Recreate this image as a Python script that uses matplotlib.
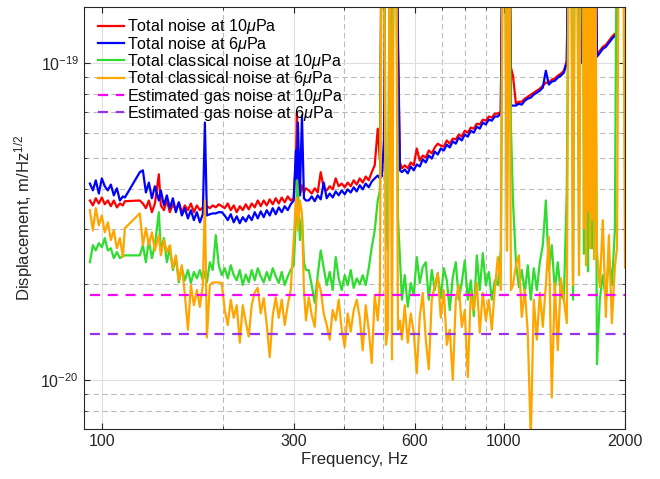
import matplotlib
matplotlib.use("Agg")
import matplotlib.pyplot as plt
import numpy as np
from matplotlib.ticker import FixedLocator, NullFormatter

plt.rcParams['font.family'] = ['Liberation Sans', 'DejaVu Sans']
plt.rcParams['mathtext.fontset'] = 'custom'
plt.rcParams['mathtext.rm'] = 'Liberation Sans'
plt.rcParams['mathtext.it'] = 'Liberation Sans:italic'

# frequency bins, Hz (shared by the four measured spectra)
freq = [
    93.4, 95.0, 96.6, 98.3, 100.0, 101.7, 103.5, 105.3, 107.1, 109.0, 110.9, 112.8, 114.1,
    124.3, 126.5, 128.7, 130.9, 133.2, 135.5, 138.6, 140.2, 142.7, 145.1, 147.6, 150.2,
    152.8, 155.4, 158.1, 160.9, 163.7, 166.5, 169.4, 172.3, 175.3, 178.3, 180.4, 182.5, 185.6,
    188.7, 192.0, 195.3, 198.7,
    202.1, 205.7, 209.2, 212.8, 216.5, 220.3, 224.1, 228.0, 231.9, 235.9, 240.0, 244.2,
    248.4, 252.7, 257.1, 261.5, 266.1, 270.7, 275.4, 280.1, 285.0, 289.9, 294.9,
    300.0, 303.8, 305.6, 307.3, 310.8, 314.5, 318.1, 321.8,
    327.0, 332.6, 338.4, 344.2, 350.2, 356.3, 362.4, 368.7, 375.1, 381.6, 388.2, 394.9,
    401.8, 408.7, 415.8, 423.0, 430.4, 437.8, 445.4, 453.1, 461.0, 469.0, 477.1, 485.4,
    491.5, 497.2, 503.0, 508.8, 514.6, 520.6, 526.6, 532.6, 538.7, 545.0, 551.2,
    557.6, 566.6, 576.5, 586.4, 596.6, 606.9, 617.5, 628.2, 639.1, 650.1, 661.4, 672.9,
    684.5, 696.4, 708.5, 720.7, 733.2, 746.0, 758.9, 772.0, 785.4, 799.0, 812.9, 827.0,
    841.3, 855.9, 870.7, 885.8, 901.2, 916.8, 932.7, 948.8, 965.3, 982.0,
    994.3, 1005.8, 1017.3, 1029.0, 1040.8, 1052.9,
    1071, 1089, 1107, 1127, 1146, 1166, 1186, 1207, 1228, 1249, 1271, 1293, 1315, 1338,
    1361, 1385, 1409, 1433,
    1451, 1468, 1485, 1502, 1519, 1537, 1554, 1572, 1581, 1590, 1600, 1609, 1618, 1627,
    1637, 1646, 1656, 1665, 1675, 1684,
    1703, 1731, 1761, 1792, 1823, 1855, 1887,
    1910, 1932, 1954, 1977, 2000,
]

# amplitudes in units of 1e-20 m/Hz^1/2 (values above 15 run off the top)
total_10 = [
    3.68, 3.55, 3.74, 3.60, 3.76, 3.58, 3.68, 3.53, 3.68, 3.50, 3.60, 3.55, 3.66,
    3.68, 3.60, 3.48, 3.68, 3.38, 3.60, 4.45, 3.55, 3.43, 3.68, 3.38, 3.58,
    3.43, 3.63, 3.38, 3.55, 3.43, 3.60, 3.38, 3.55, 3.43, 3.50, 3.38, 3.53, 3.48,
    3.55, 3.50, 3.58, 3.53,
    3.48, 3.60, 3.43, 3.55, 3.38, 3.53, 3.43, 3.58, 3.45, 3.60, 3.50, 3.68,
    3.53, 3.68, 3.55, 3.71, 3.58, 3.74, 3.60, 3.76, 3.63, 3.79, 3.68,
    3.74, 4.92, 6.96, 3.96, 3.82, 4.11, 3.90, 4.02,
    3.96, 3.87, 4.02, 3.90, 4.52, 4.02, 3.96, 4.08, 3.99, 4.32, 4.08, 4.16,
    4.05, 4.19, 4.08, 4.26, 4.13, 4.32, 4.19, 4.38, 4.26, 4.52, 4.75, 6.20,
    4.92, 40, 40, 40, 40, 40, 6.30, 40, 40, 12.35, 4.85,
    4.65, 4.75, 4.65, 4.85, 4.75, 5.37, 4.92, 5.10, 5.03, 5.29, 5.18, 5.41,
    5.56, 5.48, 5.44, 5.69, 5.56, 5.77, 5.73, 5.94, 5.85, 6.11, 6.02, 6.25,
    6.20, 6.43, 6.39, 6.62, 6.57, 6.77, 6.72, 6.91, 6.91, 7.01,
    40, 40, 40, 40, 9.65, 9.11,
    7.43, 7.54, 7.54, 7.71, 7.82, 7.94, 8.05, 8.17, 8.29, 8.47, 8.66, 8.66, 8.85, 8.92,
    9.11, 9.24, 9.44, 10.15,
    40, 40, 40, 40, 40, 40, 12.0, 40, 40, 40, 40, 40, 40, 40,
    40, 40, 40, 40, 40, 40,
    10.6, 10.91, 11.23, 11.39, 11.73, 12.08, 12.35,
    12.45, 40, 40, 40, 40,
]

total_6 = [
    4.16, 3.96, 4.26, 3.87, 4.32, 4.08, 3.96, 4.13, 3.82, 4.02, 3.68, 3.79, 3.76,
    4.52, 4.58, 3.90, 4.19, 3.74, 4.08, 3.68, 3.96, 3.55, 3.82, 3.48, 3.74,
    3.38, 3.63, 3.30, 3.48, 3.23, 3.43, 3.19, 3.38, 3.14, 3.33, 6.48, 3.30, 3.33,
    3.35, 3.35, 3.38, 3.38,
    3.30, 3.19, 3.33, 3.14, 3.28, 3.12, 3.26, 3.16, 3.30, 3.19, 3.38, 3.23,
    3.40, 3.26, 3.43, 3.30, 3.48, 3.33, 3.50, 3.38, 3.53, 3.43, 3.58,
    3.68, 5.29, 4.26, 6.48, 3.82, 6.82, 3.74, 3.68,
    3.68, 3.79, 3.66, 3.82, 3.71, 4.19, 3.74, 3.87, 3.76, 3.93, 3.82, 3.96,
    3.85, 3.99, 3.90, 4.05, 3.93, 4.11, 3.99, 4.16, 4.05, 4.22, 4.32, 4.41,
    4.32, 4.40, 5.70, 40, 40, 40, 4.75, 40, 40, 10.9, 4.58,
    4.52, 4.61, 4.48, 4.71, 4.58, 4.78, 4.71, 4.96, 4.85, 5.10, 4.99, 5.25,
    5.14, 5.37, 5.29, 5.52, 5.41, 5.65, 5.56, 5.81, 5.69, 5.94, 5.85, 6.11,
    6.02, 6.29, 6.20, 6.48, 6.39, 6.62, 6.57, 6.77, 6.77, 6.91,
    40, 40, 40, 40, 7.33, 7.33,
    7.33, 7.43, 7.38, 7.60, 7.71, 7.77, 7.94, 8.05, 8.17, 8.35, 9.44, 8.54, 8.72, 8.78,
    8.98, 9.11, 9.31, 10.0,
    40, 40, 40, 40, 40, 11.5, 10.0, 40, 40, 40, 40, 40, 40, 40,
    40, 40, 40, 40, 40, 40,
    10.45, 10.75, 11.07, 11.23, 11.56, 11.9, 12.17,
    12.0, 40, 40, 40, 40,
]

classical_10 = [
    2.35, 2.66, 2.56, 2.70, 2.62, 2.80, 2.56, 2.60, 2.42, 2.53, 2.42, 2.46, 2.47,
    2.47, 2.66, 2.35, 2.76, 2.42, 2.66, 3.38, 2.56, 2.80, 2.35, 2.60, 2.22,
    2.42, 2.03, 2.25, 2.06, 2.22, 2.02, 2.19, 2.09, 2.22, 2.06, 2.19, 2.03, 2.35,
    2.22, 2.86, 2.30, 2.14,
    2.25, 2.09, 2.30, 2.14, 2.06, 2.22, 1.99, 2.15, 2.03, 2.22, 2.06, 2.25,
    2.12, 2.03, 2.19, 2.06, 2.25, 2.12, 2.02, 2.19, 1.99, 2.12, 2.22,
    2.30, 3.19, 4.26, 3.96, 2.76, 3.30, 2.35, 2.22,
    2.22, 1.99, 1.75, 2.14, 2.56, 2.25, 1.99, 2.19, 1.92, 2.44, 2.09, 1.92,
    2.14, 1.99, 2.22, 1.95, 2.09, 2.00, 2.14, 1.99, 2.25, 2.62, 2.96, 3.68,
    3.96, 40, 40, 2.96, 2.56, 40, 2.96, 40, 40, 3.26, 2.42,
    1.79, 2.14, 1.70, 2.02, 1.85, 2.44, 2.02, 2.27, 2.35, 1.79, 2.22, 1.92,
    2.17, 1.81, 2.25, 2.06, 1.66, 2.11, 2.35, 1.79, 2.03, 2.38, 1.79, 2.06,
    1.59, 2.47, 1.92, 2.51, 1.99, 2.19, 1.79, 2.06, 1.99, 2.56,
    40, 40, 2.56, 40, 6.25, 3.68,
    2.35, 1.96, 2.22, 1.89, 2.30, 1.79, 2.25, 1.92, 2.35, 2.66, 3.68, 2.22, 2.66, 1.92,
    2.35, 1.85, 1.79, 3.96,
    40, 40, 1.79, 40, 40, 2.47, 40, 40, 2.5, 40, 40, 40, 2.2, 40,
    40, 40, 2.6, 40, 40, 40,
    1.12, 1.79, 2.14, 1.79, 2.47, 1.99, 2.96,
    40, 40, 40, 40, 40,
]

classical_6 = [
    3.43, 2.96, 3.48, 3.07, 3.30, 2.92, 3.14, 2.76, 2.96, 2.60, 2.80, 2.44, 3.01,
    3.35, 2.66, 3.01, 2.66, 2.92, 2.56, 2.86, 2.47, 2.76, 2.53, 2.66, 2.25,
    2.47, 2.06, 2.30, 1.85, 1.44, 1.99, 1.72, 1.92, 1.70, 1.99, 3.68, 1.36, 1.99,
    2.03, 2.03, 2.03, 2.02,
    1.66, 1.49, 1.79, 1.57, 1.72, 1.31, 1.72, 1.52, 1.37, 1.72, 1.89, 1.95,
    1.62, 1.81, 1.49, 1.18, 1.60, 1.82, 1.57, 1.79, 1.49, 1.72, 1.92,
    2.76, 3.68, 3.76, 2.96, 3.68, 3.35, 1.92, 1.54,
    1.82, 1.60, 1.47, 2.06, 1.92, 1.62, 1.49, 1.34, 1.66, 1.54, 1.79, 1.44,
    1.27, 1.62, 1.42, 1.66, 1.79, 1.57, 1.24, 1.72, 1.44, 1.13, 1.85, 1.54,
    1.92, 40, 40, 1.29, 1.44, 40, 1.16, 40, 40, 1.44, 1.54,
    1.34, 1.72, 1.31, 1.62, 1.41, 1.05, 1.58, 1.88, 1.34, 1.08, 1.79, 1.99,
    2.17, 1.57, 1.92, 1.29, 1.44, 1.00, 1.79, 1.99, 1.47, 1.66, 1.02, 1.88,
    1.66, 2.02, 1.41, 1.88, 1.54, 1.79, 1.44, 1.92, 2.44, 1.92,
    40, 40, 2.56, 40, 1.92, 1.99,
    2.30, 2.47, 1.58, 1.92, 1.41, 0.65, 1.79, 1.34, 1.88, 1.47, 1.99, 2.82, 0.88, 2.02,
    1.24, 2.09, 1.79, 1.51,
    40, 40, 1.99, 40, 40, 2.14, 40, 40, 3.0, 40, 2.3, 40, 3.4, 40,
    2.6, 40, 3.2, 40, 2.4, 40,
    2.56, 1.96, 3.19, 1.58, 2.86, 1.51, 2.27,
    2.6, 40, 40, 40, 2.26,
]

# estimated gas noise levels, 1e-20 m/Hz^1/2
gas_10 = 1.85
gas_6 = 1.40

scale = 1e-20
f = np.array(freq)

fig = plt.figure(figsize=(6.6, 4.79), dpi=100)
ax = fig.add_axes([0.127, 0.1044, 0.82, 0.881])

lw = 1.6
ax.plot(f, np.array(total_10) * scale, color='#ff0000', lw=lw, label=r'Total noise at 10$\mu$Pa')
ax.plot(f, np.array(total_6) * scale, color='#0000ff', lw=lw, label=r'Total noise at 6$\mu$Pa')
ax.plot(f, np.array(classical_10) * scale, color='#2fdc2f', lw=lw, label=r'Total classical noise at 10$\mu$Pa')
ax.plot(f, np.array(classical_6) * scale, color='#ffa500', lw=lw, label=r'Total classical noise at 6$\mu$Pa')
dash = (0, (4.5, 3.5))
ax.plot([f[0], f[-1]], [gas_10 * scale] * 2, color='#ff00ff', lw=lw, ls=dash,
        label=r'Estimated gas noise at 10$\mu$Pa')
ax.plot([f[0], f[-1]], [gas_6 * scale] * 2, color='#9933e6', lw=lw, ls=dash,
        label=r'Estimated gas noise at 6$\mu$Pa')

ax.set_xscale('log')
ax.set_yscale('log')
ax.set_xlim(90.2, 2000)
ax.set_ylim(7e-21, 1.5e-19)

xt = [100, 300, 600, 1000, 2000]
ax.xaxis.set_major_locator(FixedLocator(xt))
ax.set_xticklabels([str(t) for t in xt])
ax.xaxis.set_minor_locator(FixedLocator([200, 400, 500, 700, 800, 900]))
ax.xaxis.set_minor_formatter(NullFormatter())
ax.yaxis.set_major_locator(FixedLocator([1e-20, 1e-19]))
ax.yaxis.set_minor_locator(FixedLocator([8e-21, 9e-21] + [k * 1e-20 for k in range(2, 10)]))
ax.yaxis.set_minor_formatter(NullFormatter())

ax.set_axisbelow(True)
ax.grid(True, which='major', color='#dedede', lw=0.8, ls='-')
ax.grid(True, which='minor', color='#bcbcbc', lw=0.8, ls=(0, (5, 3)))

ax.tick_params(which='both', direction='in', top=True, right=True, labelsize=11.5,
               color='#262626', labelcolor='#262626')
ax.tick_params(which='major', length=4.5, width=0.8)
ax.tick_params(which='minor', length=2.5, width=0.6)
for s in ax.spines.values():
    s.set_color('#262626')
    s.set_linewidth(0.8)

ax.set_xlabel('Frequency, Hz', fontsize=12, color='#262626', labelpad=2)
ax.set_ylabel(r'Displacement, m/Hz$^{1/2}$', fontsize=12, color='#262626', labelpad=4)

leg = ax.legend(loc='upper left', frameon=False, fontsize=11.6, handlelength=1.6,
                handletextpad=0.15, labelspacing=-0.1, borderaxespad=0.1,
                bbox_to_anchor=(0.012, 0.995))

fig.savefig('out.png', dpi=100)
